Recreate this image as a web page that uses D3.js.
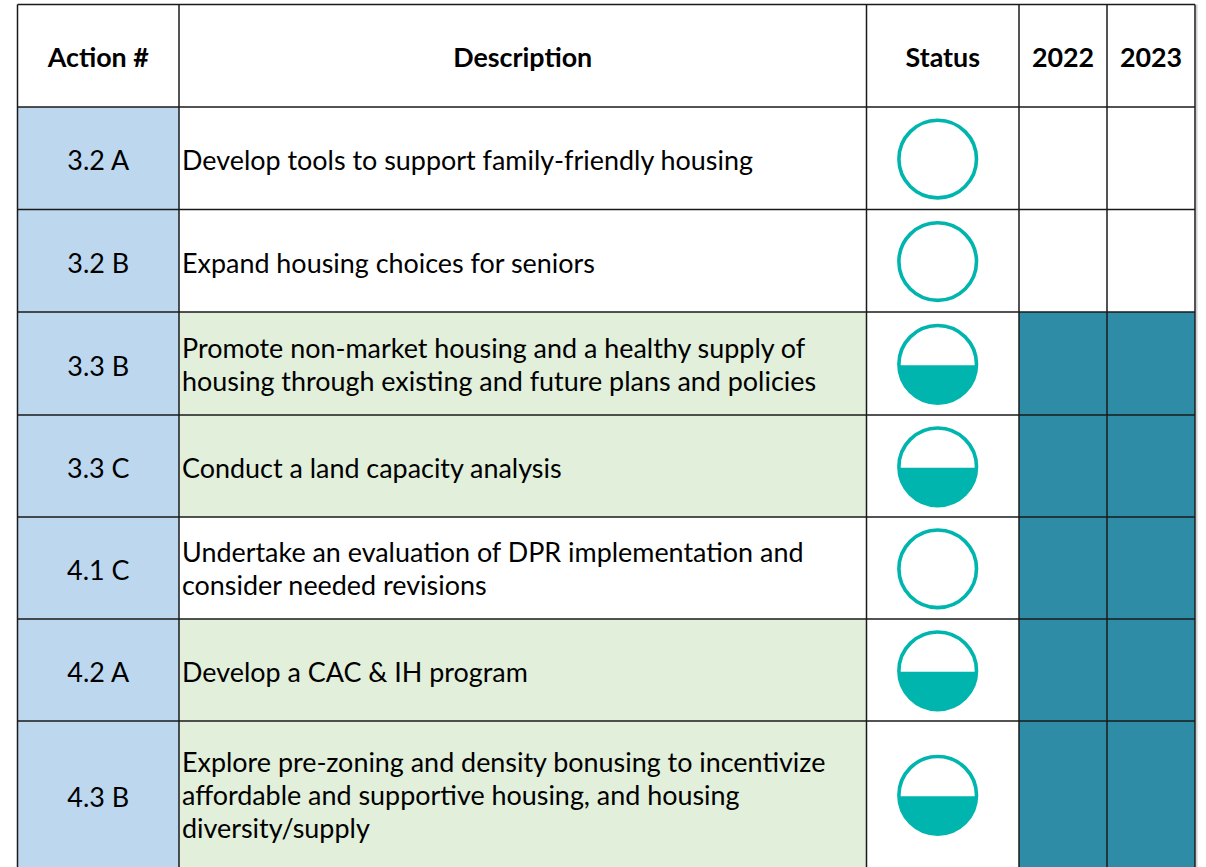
<!DOCTYPE html>
<html><head><meta charset="utf-8">
<script src="https://cdn.jsdelivr.net/npm/d3@7"></script>
<style>html,body{margin:0;padding:0;background:#fff;}svg{display:block;}</style>
</head><body>
<svg id="chart" width="1206" height="867"></svg>
<script>
const columns = ["Action #", "Description", "Status", "2022", "2023"];
const actions = ["3.2 A", "3.2 B", "3.3 B", "3.3 C", "4.1 C", "4.2 A", "4.3 B"];
const descriptions = [
  ["Develop tools to support family-friendly housing"],
  ["Expand housing choices for seniors"],
  ["Promote non-market housing and a healthy supply of", "housing through existing and future plans and policies"],
  ["Conduct a land capacity analysis"],
  ["Undertake an evaluation of DPR implementation and", "consider needed revisions"],
  ["Develop a CAC & IH program"],
  ["Explore pre-zoning and density bonusing to incentivize", "affordable and supportive housing, and housing", "diversity/supply"]
];
const descHighlighted = [false, false, true, true, false, true, true];
const status = [0, 0, 0.5, 0.5, 0, 0.5, 0.5];
const year2022 = [false, false, true, true, true, true, true];
const year2023 = [false, false, true, true, true, true, true];

const svg = d3.select("#chart");
const FONT = "Lato, 'Open Sans', sans-serif";

// measure to calibrate font size (Calibri-like width)
const probe = svg.append("text").attr("font-family", FONT).attr("font-size", 100).text(descriptions[0][0]);
const w100 = probe.node().getComputedTextLength();
probe.remove();
const fs = 100 * 571 / w100;
const probeB = svg.append("text").attr("font-family", FONT).attr("font-weight", 700).attr("font-size", 100).text("Description");
const wb100 = probeB.node().getComputedTextLength();
probeB.remove();
const fsB = 100 * 139 / wb100;

// layout
const colEdges = [17.5, 179, 866.5, 1019, 1107, 1195];
const headerTop = 4.5, headerBottom = 107;
const rowBottoms = [209.5, 312, 415, 517, 619, 721, 868];
const rowTops = [headerBottom].concat(rowBottoms.slice(0, -1));

const x = d3.scaleOrdinal().domain(columns).range(colEdges.slice(0, 5));
const xEnd = d3.scaleOrdinal().domain(columns).range(colEdges.slice(1));
const yTop = d3.scaleOrdinal().domain(actions).range(rowTops);
const yBot = d3.scaleOrdinal().domain(actions).range(rowBottoms);
const yMid = a => (yTop(a) + yBot(a)) / 2;

const rows = actions.map((a, i) => ({a, desc: descriptions[i], hl: descHighlighted[i], s: status[i], y22: year2022[i], y23: year2023[i]}));

const gCells = svg.append("g");
// backgrounds
gCells.selectAll("rect.act").data(rows).join("rect")
  .attr("x", x("Action #")).attr("width", xEnd("Action #") - x("Action #"))
  .attr("y", d => yTop(d.a)).attr("height", d => yBot(d.a) - yTop(d.a))
  .attr("fill", "#BDD7EE");
gCells.selectAll("rect.desc").data(rows.filter(d => d.hl)).join("rect")
  .attr("x", x("Description")).attr("width", xEnd("Description") - x("Description"))
  .attr("y", d => yTop(d.a)).attr("height", d => yBot(d.a) - yTop(d.a))
  .attr("fill", "#E2EFDA");
[["2022", "y22"], ["2023", "y23"]].forEach(([c, k]) => {
  gCells.append("g").selectAll("rect").data(rows.filter(d => d[k])).join("rect")
    .attr("x", x(c)).attr("width", xEnd(c) - x(c))
    .attr("y", d => yTop(d.a)).attr("height", d => yBot(d.a) - yTop(d.a))
    .attr("fill", "#2E8CA6");
});

// grid lines
const gGrid = svg.append("g").attr("stroke", "#1a1a1a").attr("stroke-width", 1.5);
colEdges.forEach(cx => gGrid.append("line").attr("x1", cx).attr("x2", cx).attr("y1", headerTop).attr("y2", 867));
[headerTop, headerBottom].concat(rowBottoms.slice(0, -1)).forEach(yy =>
  gGrid.append("line").attr("x1", colEdges[0]).attr("x2", colEdges[5]).attr("y1", yy).attr("y2", yy));
svg.append("line").attr("x1", 1196.8).attr("x2", 1196.8).attr("y1", headerTop).attr("y2", 867).attr("stroke", "#d0d0d0").attr("stroke-width", 1.5);

// header
svg.append("g").selectAll("text").data(columns).join("text")
  .attr("x", c => (x(c) + xEnd(c)) / 2)
  .attr("y", 66.5)
  .attr("text-anchor", "middle")
  .attr("font-family", FONT).attr("font-weight", 700).attr("font-size", fsB)
  .attr("fill", "#000").text(c => c);

// action ids
svg.append("g").selectAll("text").data(rows).join("text")
  .attr("x", (x("Action #") + xEnd("Action #")) / 2)
  .attr("y", d => yMid(d.a) + 12)
  .attr("text-anchor", "middle")
  .attr("font-family", FONT).attr("font-size", fs).attr("fill", "#000")
  .text(d => d.a);

// descriptions
const LH = 33;
svg.append("g").selectAll("text").data(rows).join("text")
  .attr("font-family", FONT).attr("font-size", fs).attr("fill", "#000")
  .each(function(d) {
    const n = d.desc.length;
    const base = yMid(d.a) + (n === 1 ? 12 : 10.5);
    d3.select(this).selectAll("tspan").data(d.desc).join("tspan")
      .attr("x", x("Description") + 3)
      .attr("y", (t, i) => base + (i - (n - 1) / 2) * LH)
      .text(t => t);
  });

// status circles
const cx = 937.7, R = 38.8, SW = 3.6;
const gS = svg.append("g");
rows.forEach((d, i) => {
  const cy = yMid(d.a) + 0.8;
  const g = gS.append("g");
  if (d.s > 0) {
    const cid = "clip" + i;
    const chordY = cy + R * (1 - 2 * d.s) + 1;
    g.append("clipPath").attr("id", cid).append("rect")
      .attr("x", cx - R - 5).attr("width", 2 * R + 10)
      .attr("y", chordY).attr("height", cy + R + 5 - chordY);
    g.append("circle").attr("cx", cx).attr("cy", cy).attr("r", R)
      .attr("fill", "#00B5AD").attr("clip-path", `url(#${cid})`);
  }
  g.append("circle").attr("cx", cx).attr("cy", cy).attr("r", R)
    .attr("fill", "none").attr("stroke", "#00B5AD").attr("stroke-width", SW);
});
</script>
</body></html>
